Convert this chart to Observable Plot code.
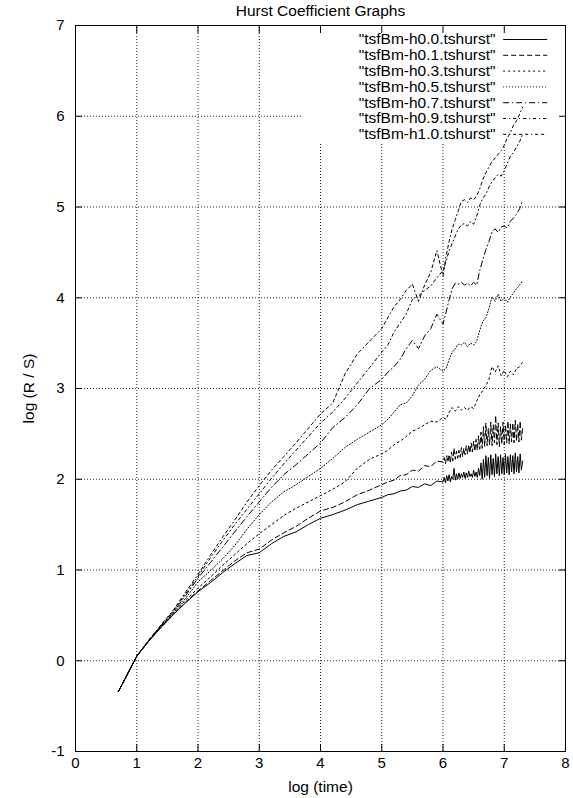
<!DOCTYPE html>
<html>
<head>
<meta charset="utf-8">
<script src="https://cdn.jsdelivr.net/npm/d3@7"></script>
<script src="https://cdn.jsdelivr.net/npm/@observablehq/plot@0.6"></script>
<style>
  html, body { margin: 0; padding: 0; background: #fff; }
  #chart svg { display: block; }
</style>
</head>
<body>
<div id="chart"></div>
<script>
// ---------- texts ----------
const title = "Hurst Coefficient Graphs";
const xLabel = "log (time)";
const yLabel = "log (R / S)";
const xTicks = [0, 1, 2, 3, 4, 5, 6, 7, 8];
const yTicks = [-1, 0, 1, 2, 3, 4, 5, 6, 7];
const gridX = [1, 2, 3, 4, 5, 6, 7];
const gridY = [0, 1, 2, 3, 4, 5, 6];

// ---------- series ----------
const seriesLabels = [
  '"tsfBm-h0.0.tshurst"',
  '"tsfBm-h0.1.tshurst"',
  '"tsfBm-h0.3.tshurst"',
  '"tsfBm-h0.5.tshurst"',
  '"tsfBm-h0.7.tshurst"',
  '"tsfBm-h0.9.tshurst"',
  '"tsfBm-h1.0.tshurst"'
];

// sampling used by the smoother series (h0.3 ... h1.0)
const logTime = [
  0.7, 0.8, 0.9, 1.0, 1.2, 1.4, 1.6, 1.8,
  2.0, 2.2, 2.4, 2.6, 2.8, 3.0, 3.2, 3.4, 3.6, 3.8, 4.0, 4.2, 4.4, 4.6, 4.8,
  5.0, 5.1, 5.2, 5.3, 5.4, 5.5, 5.6, 5.7, 5.8, 5.9, 6.0,
  6.05, 6.10, 6.15, 6.20, 6.25, 6.30, 6.35, 6.40, 6.45, 6.50, 6.55, 6.60, 6.65,
  6.70, 6.75, 6.80, 6.85, 6.90, 6.95, 7.00, 7.05, 7.10, 7.15, 7.20, 7.25, 7.30
];

// finer sampling used by the very noisy series (h0.0, h0.1)
const logTimeFine = [
  0.7, 0.8, 0.9, 1.0, 1.2, 1.4, 1.6, 1.8,
  2.0, 2.2, 2.4, 2.6, 2.8, 3.0, 3.2, 3.4, 3.6, 3.8, 4.0, 4.2, 4.4, 4.6, 4.8,
  5.0, 5.1, 5.2, 5.3, 5.4, 5.5, 5.6, 5.7, 5.8, 5.9, 6.0,
  6.02, 6.04, 6.06, 6.08, 6.10, 6.12, 6.14, 6.16, 6.18, 6.20,
  6.22, 6.24, 6.26, 6.28, 6.30, 6.32, 6.34, 6.36, 6.38, 6.40,
  6.42, 6.44, 6.46, 6.48, 6.50, 6.52, 6.54, 6.56, 6.58, 6.60,
  6.62, 6.64, 6.66, 6.68, 6.70, 6.72, 6.74, 6.76, 6.78, 6.80,
  6.82, 6.84, 6.86, 6.88, 6.90, 6.92, 6.94, 6.96, 6.98, 7.00,
  7.02, 7.04, 7.06, 7.08, 7.10, 7.12, 7.14, 7.16, 7.18, 7.20,
  7.22, 7.24, 7.26, 7.28, 7.30
];

const h00 = [
  -0.34, -0.21, -0.08, 0.05, 0.22, 0.37, 0.51, 0.64,
  0.76, 0.86, 0.97, 1.07, 1.16, 1.19, 1.29, 1.37, 1.42, 1.50, 1.57, 1.61, 1.66, 1.72, 1.76,
  1.80, 1.83, 1.84, 1.87, 1.88, 1.92, 1.91, 1.95, 1.93, 1.98, 1.97,
  2.02, 1.96, 2.04, 1.98, 2.05, 1.97, 2.03, 2.00, 2.12, 1.99,
  2.06, 2.00, 2.07, 2.01, 2.06, 2.02, 2.08, 2.01, 2.07, 2.02,
  2.09, 2.03, 2.06, 2.02, 2.10, 2.03, 2.08, 2.02, 2.12, 2.04,
  2.18, 2.00, 2.22, 2.02, 2.26, 2.04, 2.24, 2.01, 2.27, 2.05,
  2.23, 2.03, 2.28, 2.06, 2.25, 2.04, 2.27, 2.06, 2.24, 2.05,
  2.28, 2.07, 2.25, 2.05, 2.27, 2.08, 2.26, 2.06, 2.29, 2.08,
  2.25, 2.07, 2.28, 2.10, 2.20
];
const h01 = [
  -0.34, -0.21, -0.08, 0.05, 0.22, 0.37, 0.51, 0.65,
  0.77, 0.88, 0.99, 1.10, 1.19, 1.23, 1.33, 1.41, 1.48, 1.57, 1.65, 1.69, 1.75, 1.83, 1.88,
  1.94, 1.97, 1.99, 2.04, 2.05, 2.10, 2.09, 2.15, 2.14, 2.20, 2.19,
  2.24, 2.17, 2.26, 2.19, 2.27, 2.18, 2.30, 2.20, 2.34, 2.22,
  2.31, 2.23, 2.32, 2.24, 2.35, 2.25, 2.34, 2.27, 2.37, 2.28,
  2.38, 2.29, 2.40, 2.30, 2.42, 2.31, 2.44, 2.32, 2.48, 2.33,
  2.52, 2.34, 2.58, 2.36, 2.62, 2.37, 2.56, 2.38, 2.63, 2.37,
  2.60, 2.40, 2.70, 2.38, 2.62, 2.36, 2.58, 2.39, 2.63, 2.38,
  2.60, 2.40, 2.64, 2.39, 2.61, 2.41, 2.62, 2.40, 2.65, 2.42,
  2.61, 2.41, 2.64, 2.43, 2.56
];
const h03 = [
  -0.34, -0.21, -0.08, 0.05, 0.22, 0.38, 0.52, 0.67,
  0.80, 0.92, 1.05, 1.17, 1.29, 1.40, 1.50, 1.60, 1.68, 1.75, 1.82, 1.89, 1.97, 2.12, 2.22,
  2.28, 2.32, 2.38, 2.42, 2.47, 2.53, 2.56, 2.60, 2.64, 2.63, 2.68,
  2.66, 2.74, 2.79, 2.75, 2.80, 2.76, 2.79, 2.76, 2.80, 2.78, 2.86, 2.93, 2.98,
  3.03, 3.10, 3.24, 3.18, 3.25, 3.14, 3.20, 3.13, 3.19, 3.15, 3.22, 3.24, 3.29
];
const h05 = [
  -0.34, -0.21, -0.08, 0.05, 0.22, 0.38, 0.53, 0.69,
  0.87, 0.99, 1.12, 1.27, 1.45, 1.61, 1.75, 1.86, 1.94, 2.03, 2.12, 2.23, 2.35, 2.44, 2.52,
  2.60, 2.66, 2.74, 2.82, 2.84, 2.92, 3.04, 3.10, 3.20, 3.24, 3.19,
  3.22, 3.32, 3.40, 3.44, 3.49, 3.48, 3.51, 3.46, 3.50, 3.48, 3.52, 3.64, 3.74,
  3.78, 3.88, 4.01, 3.96, 4.04, 3.96, 4.00, 3.95, 4.01, 4.05, 4.10, 4.14, 4.19
];
const h07 = [
  -0.34, -0.21, -0.08, 0.05, 0.23, 0.39, 0.54, 0.72,
  0.91, 1.08, 1.25, 1.42, 1.59, 1.75, 1.91, 2.05, 2.16, 2.28, 2.40, 2.57, 2.68, 2.82, 3.00,
  3.10, 3.18, 3.24, 3.32, 3.44, 3.53, 3.44, 3.58, 3.66, 3.82, 3.71,
  3.84, 3.98, 4.10, 4.16, 4.15, 4.17, 4.14, 4.16, 4.13, 4.17, 4.14, 4.30, 4.42,
  4.53, 4.62, 4.72, 4.76, 4.72, 4.78, 4.79, 4.77, 4.84, 4.88, 4.92, 4.98, 5.07
];
const h09 = [
  -0.34, -0.21, -0.08, 0.05, 0.23, 0.39, 0.55, 0.74,
  0.93, 1.13, 1.32, 1.50, 1.67, 1.84, 2.01, 2.17, 2.32, 2.47, 2.62, 2.74, 2.89, 3.06, 3.23,
  3.40, 3.48, 3.62, 3.72, 3.82, 3.98, 4.02, 4.08, 4.13, 4.22, 4.30,
  4.40, 4.52, 4.60, 4.68, 4.76, 4.80, 4.82, 4.79, 4.84, 4.81, 4.90, 5.02, 5.10,
  5.14, 5.22, 5.28, 5.32, 5.36, 5.34, 5.40, 5.48, 5.56, 5.60, 5.66, 5.72, 5.80
];
const h10 = [
  -0.34, -0.21, -0.08, 0.05, 0.23, 0.40, 0.56, 0.76,
  0.95, 1.16, 1.36, 1.55, 1.75, 1.93, 2.10, 2.25, 2.40, 2.56, 2.72, 2.84, 3.16, 3.38, 3.52,
  3.66, 3.78, 3.90, 3.98, 4.08, 4.15, 3.96, 4.14, 4.28, 4.52, 4.24,
  4.46, 4.62, 4.76, 4.86, 4.96, 5.06, 5.08, 5.05, 5.10, 5.08, 5.12, 5.20, 5.30,
  5.38, 5.44, 5.50, 5.54, 5.58, 5.62, 5.68, 5.76, 5.82, 5.90, 5.95, 6.02, 6.10
];

// ---------- styles (gnuplot-like line types) ----------
const seriesValues = [h00, h01, h03, h05, h07, h09, h10];
const seriesTimes = [logTimeFine, logTimeFine, logTime, logTime, logTime, logTime, logTime];
const dashPatterns = [null, "5,3", "2,3", "1,2", "6,3,1,3", "3,3,1,3", "3,3,1,3,3,3,3,3"];
const fontFamily = "'Liberation Sans', Arial, Helvetica, sans-serif";

// legend geometry (data units) and the key area that gnuplot keeps free of grid lines
const keyLeftX = 3.72, keyBottomY = 5.70;
const legendTextX = 6.857, sampleX1 = 6.99, sampleX2 = 7.71;
const legendTopY = 6.846, legendStep = 0.1742;

const marks = [];

// grid (dotted), interrupted where the key sits
marks.push(Plot.ruleX(gridX, {
  x: d => d, y1: -1, y2: d => d > keyLeftX ? keyBottomY : 7,
  stroke: "#000", strokeWidth: 1, strokeDasharray: "1,2", strokeOpacity: 0.85
}));
marks.push(Plot.ruleY(gridY, {
  y: d => d, x1: 0, x2: d => d > keyBottomY ? keyLeftX : 8,
  stroke: "#000", strokeWidth: 1, strokeDasharray: "1,2", strokeOpacity: 0.85
}));

// data lines
seriesValues.forEach((vals, i) => {
  const times = seriesTimes[i];
  const rows = times.map((t, j) => ({t, v: vals[j]}));
  marks.push(Plot.line(rows, {
    x: "t", y: "v", stroke: "#000", strokeWidth: 1,
    strokeDasharray: dashPatterns[i] ?? undefined, curve: "linear"
  }));
});

// key
marks.push(Plot.text(seriesLabels, {
  x: () => legendTextX, y: (d, i) => legendTopY - i * legendStep, text: d => d,
  textAnchor: "end", lineAnchor: "middle", fontSize: 15.5, fill: "#000"
}));
seriesLabels.forEach((lab, i) => {
  marks.push(Plot.ruleY([legendTopY - i * legendStep], {
    x1: sampleX1, x2: sampleX2, stroke: "#000", strokeWidth: 1,
    strokeDasharray: dashPatterns[i] ?? undefined
  }));
});

// frame
marks.push(Plot.frame({stroke: "#000", strokeWidth: 1}));

// inward ticks on all four sides
marks.push(Plot.axisX(xTicks, {anchor: "bottom", tickSize: 7, dy: -7, fill: "none", label: null, stroke: "#000"}));
marks.push(Plot.axisX(xTicks, {anchor: "top", tickSize: 7, dy: 7, fill: "none", label: null, stroke: "#000"}));
marks.push(Plot.axisY(yTicks, {anchor: "left", tickSize: 7, dx: 7, fill: "none", label: null, stroke: "#000"}));
marks.push(Plot.axisY(yTicks, {anchor: "right", tickSize: 7, dx: -7, fill: "none", label: null, stroke: "#000"}));

// tick labels
marks.push(Plot.axisX(xTicks, {anchor: "bottom", tickSize: 0, tickPadding: 6, label: null, fontSize: 15, fill: "#000", tickFormat: d => `${d}`}));
marks.push(Plot.axisY(yTicks, {anchor: "left", tickSize: 0, tickPadding: 11, label: null, fontSize: 15, fill: "#000", tickFormat: d => `${d}`}));

// title and axis labels
marks.push(Plot.text([title], {frameAnchor: "top", lineAnchor: "middle", dy: -14.5, text: d => d, fontSize: 15.5, fill: "#000"}));
marks.push(Plot.text([xLabel], {frameAnchor: "bottom", lineAnchor: "middle", dy: 36, text: d => d, fontSize: 15.5, fill: "#000"}));
marks.push(Plot.text([yLabel], {frameAnchor: "left", lineAnchor: "middle", textAnchor: "middle", dx: -46, rotate: -90, text: d => d, fontSize: 15.5, fill: "#000"}));

const chart = Plot.plot({
  width: 573,
  height: 798,
  marginTop: 25,
  marginBottom: 47,
  marginLeft: 75,
  marginRight: 8,
  x: {domain: [0, 8], axis: null},
  y: {domain: [-1, 7], axis: null},
  style: {fontFamily, fontSize: "15px", background: "#fff", color: "#000", overflow: "visible"},
  marks
});
document.getElementById("chart").appendChild(chart);
</script>
</body>
</html>
